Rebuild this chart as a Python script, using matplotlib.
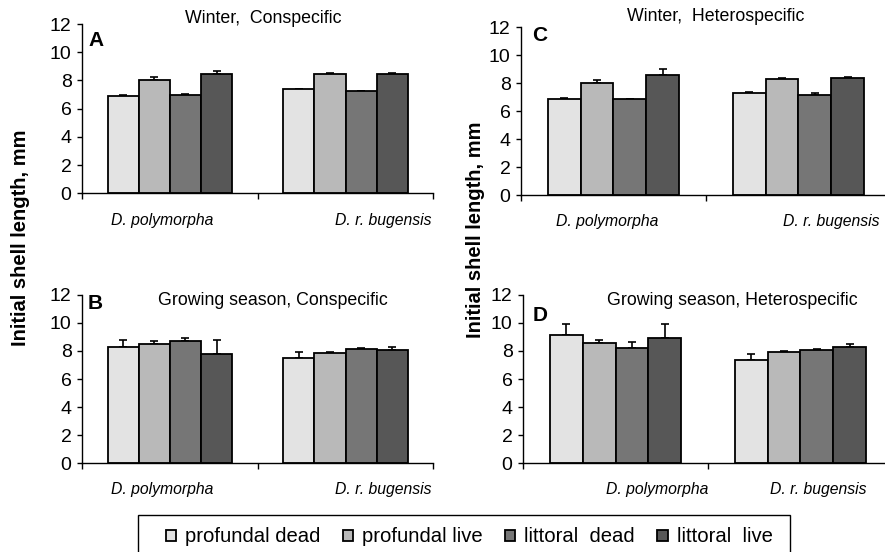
import matplotlib
matplotlib.use("Agg")
import matplotlib.pyplot as plt
from matplotlib.patches import Rectangle
import numpy as np

plt.rcParams["font.family"] = ["Liberation Sans", "DejaVu Sans"]

# -----------------------------------------------------------------------
# Data
# -----------------------------------------------------------------------
species = ["D. polymorpha", "D. r. bugensis"]
groups = ["profundal dead", "profundal live", "littoral  dead", "littoral  live"]
colors = ["#e3e3e3", "#b9b9b9", "#767676", "#575757"]

# rows = species, columns = groups
winter_con = [[6.9, 8.03, 6.97, 8.48], [7.37, 8.42, 7.23, 8.48]]
winter_con_err = [[0.04, 0.22, 0.05, 0.22], [0.05, 0.08, 0.05, 0.06]]

grow_con = [[8.25, 8.52, 8.7, 7.8], [7.52, 7.86, 8.15, 8.08]]
grow_con_err = [[0.55, 0.2, 0.26, 0.95], [0.42, 0.06, 0.06, 0.17]]

winter_het = [[6.85, 8.02, 6.85, 8.58], [7.27, 8.29, 7.18, 8.36]]
winter_het_err = [[0.05, 0.2, 0.04, 0.4], [0.08, 0.1, 0.1, 0.08]]

grow_het = [[9.13, 8.58, 8.2, 8.92], [7.37, 7.94, 8.04, 8.26]]
grow_het_err = [[0.78, 0.22, 0.42, 1.0], [0.43, 0.05, 0.13, 0.24]]

panels = [
    # letter, title, values, errors, axes rect, title pos, letter pos, label x
    ("A", "Winter,  Conspecific", winter_con, winter_con_err,
     [0.0927, 0.650, 0.397, 0.3065], (0.516, 1.035), (0.017, 0.905), (0.228, 0.858)),
    ("B", "Growing season, Conspecific", grow_con, grow_con_err,
     [0.0927, 0.1612, 0.397, 0.3044], (0.544, 0.97), (0.017, 0.95), (0.228, 0.858)),
    ("C", "Winter,  Heterospecific", winter_het, winter_het_err,
     [0.5887, 0.6467, 0.418, 0.3043], (0.527, 1.06), (0.03, 0.95), (0.232, 0.84)),
    ("D", "Growing season, Heterospecific", grow_het, grow_het_err,
     [0.591, 0.1612, 0.418, 0.3044], (0.565, 0.97), (0.027, 0.88), (0.362, 0.797)),
]

fig = plt.figure(figsize=(8.85, 5.52), dpi=100)

bar_w = 0.177
centers = np.array([0.5, 1.5])
handles = []

for letter, title, vals, errs, rect, tpos, lpos, labx in panels:
    ax = fig.add_axes(rect)
    vals = np.array(vals)
    errs = np.array(errs)
    for j in range(len(groups)):
        xs = centers + (j - 1.5) * bar_w
        b = ax.bar(xs, vals[:, j], width=bar_w, color=colors[j],
                   edgecolor="black", linewidth=1.3, label=groups[j], zorder=2)
        ax.errorbar(xs, vals[:, j], yerr=[np.zeros(2), errs[:, j]], fmt="none",
                    ecolor="black", elinewidth=1.2, capsize=3, capthick=1.2, zorder=1)
        if letter == "A":
            handles.append(b)

    ax.set_xlim(0, 2)
    ax.set_ylim(0, 12)
    ax.set_yticks(range(0, 13, 2))
    ax.set_xticks([0, 1, 2])
    ax.set_xticklabels([])
    for s in ["top", "right"]:
        ax.spines[s].set_visible(False)
    for s in ["left", "bottom"]:
        ax.spines[s].set_linewidth(1.0)
    ax.tick_params(axis="y", length=3.5, width=1.0, pad=4, labelsize=14)
    ax.tick_params(axis="x", length=4, width=1.0)

    for sp, xl in zip(species, labx):
        ax.text(xl, -0.16, sp, transform=ax.transAxes, ha="center", va="center",
                fontsize=11.3, style="italic")

    ax.text(tpos[0], tpos[1], title, transform=ax.transAxes, ha="center",
            va="center", fontsize=12.8)
    ax.text(lpos[0], lpos[1], letter, transform=ax.transAxes, ha="left",
            va="center", fontsize=15, fontweight="bold")

fig.text(0.0226, 0.569, "Initial shell length, mm", rotation=90, ha="center",
         va="center", fontsize=14.5, fontweight="bold")
fig.text(0.537, 0.583, "Initial shell length, mm", rotation=90, ha="center",
         va="center", fontsize=14.5, fontweight="bold")

# legend box runs past the bottom edge of the figure
fig.patches.append(Rectangle((138 / 885, -0.05), (790 - 138) / 885, 0.05 + 37 / 552,
                             transform=fig.transFigure, facecolor="white",
                             edgecolor="black", linewidth=1.0))
leg = fig.legend(handles, groups, loc="center left",
                 bbox_to_anchor=(160 / 885, 1 - 537 / 552), borderaxespad=0,
                 ncol=4, fontsize=14.6, frameon=False,
                 handlelength=0.5, handleheight=0.5,
                 handletextpad=0.45, columnspacing=1.1, borderpad=0.3)

fig.savefig("out.png", dpi=100)
